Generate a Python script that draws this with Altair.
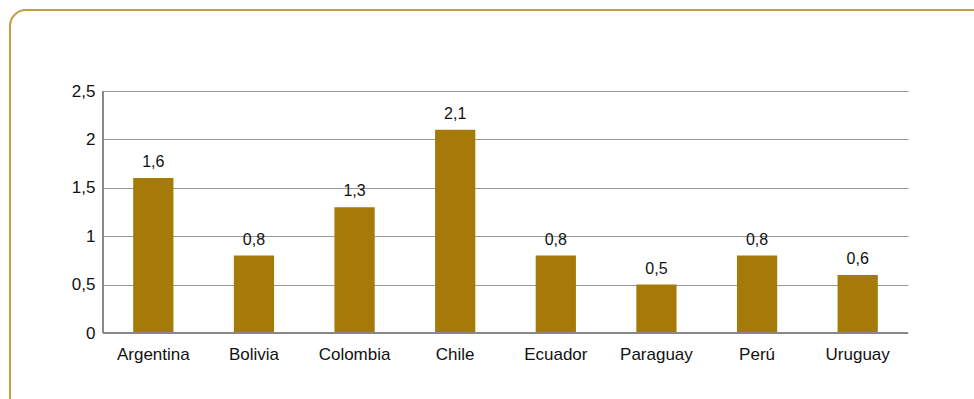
import altair as alt
import pandas as pd

countries = ["Argentina", "Bolivia", "Colombia", "Chile", "Ecuador", "Paraguay", "Perú", "Uruguay"]
values = [1.6, 0.8, 1.3, 2.1, 0.8, 0.5, 0.8, 0.6]
y_ticks = [0, 0.5, 1, 1.5, 2, 2.5]

df = pd.DataFrame({"pais": countries, "valor": values})
df["etiqueta"] = [f"{v:.1f}".replace(".", ",") for v in values]

FONT = "Liberation Sans"
BAR = "#A57A09"

base = alt.Chart(df)

x_enc = alt.X("pais:N", sort=countries, title=None,
              scale=alt.Scale(paddingInner=0.6, paddingOuter=0.3),
              axis=alt.Axis(labelAngle=0, labelFont=FONT, labelFontSize=17,
                            labelColor="#111", ticks=False, domain=False,
                            labelPadding=13))
y_enc = alt.Y("valor:Q", title=None,
              scale=alt.Scale(domain=[0, 2.5], nice=False),
              axis=alt.Axis(values=y_ticks, labelExpr="replace(format(datum.value, '~g'), '.', ',')",
                            labelFont=FONT, labelFontSize=17, labelColor="#111",
                            ticks=False, domain=False, labelPadding=8,
                            grid=True, gridColor="#999999", gridWidth=1))

border = alt.Chart(pd.DataFrame({"a": [0]})).mark_rect(
    fill=None, stroke="#C29E45", strokeWidth=2, cornerRadius=16
).encode(x=alt.value(-93), x2=alt.value(900), y=alt.value(-81), y2=alt.value(330))

bars = base.mark_bar(color=BAR).encode(x=x_enc, y=y_enc)

labels = base.mark_text(dy=-11, baseline="alphabetic", font=FONT, fontSize=16, color="#111").encode(
    x=alt.X("pais:N", sort=countries), y="valor:Q", text="etiqueta:N")

left_axis = alt.Chart(pd.DataFrame({"a": [0]})).mark_rule(color="#888888", strokeWidth=2).encode(
    x=alt.value(0), y=alt.value(0), y2=alt.value(242))
bottom_axis = alt.Chart(pd.DataFrame({"a": [0]})).mark_rule(color="#888888", strokeWidth=2).encode(
    x=alt.value(0), x2=alt.value(805), y=alt.value(242))

chart = alt.layer(border, bars, labels, left_axis, bottom_axis).properties(
    width=805, height=242,
    padding={"left": 103, "top": 91, "right": 66, "bottom": 66},
    autosize=alt.AutoSizeParams(type="none"),
    background="white",
).configure_view(stroke=None)

chart.save("out.html", embed_options={"renderer": "svg", "actions": False})
